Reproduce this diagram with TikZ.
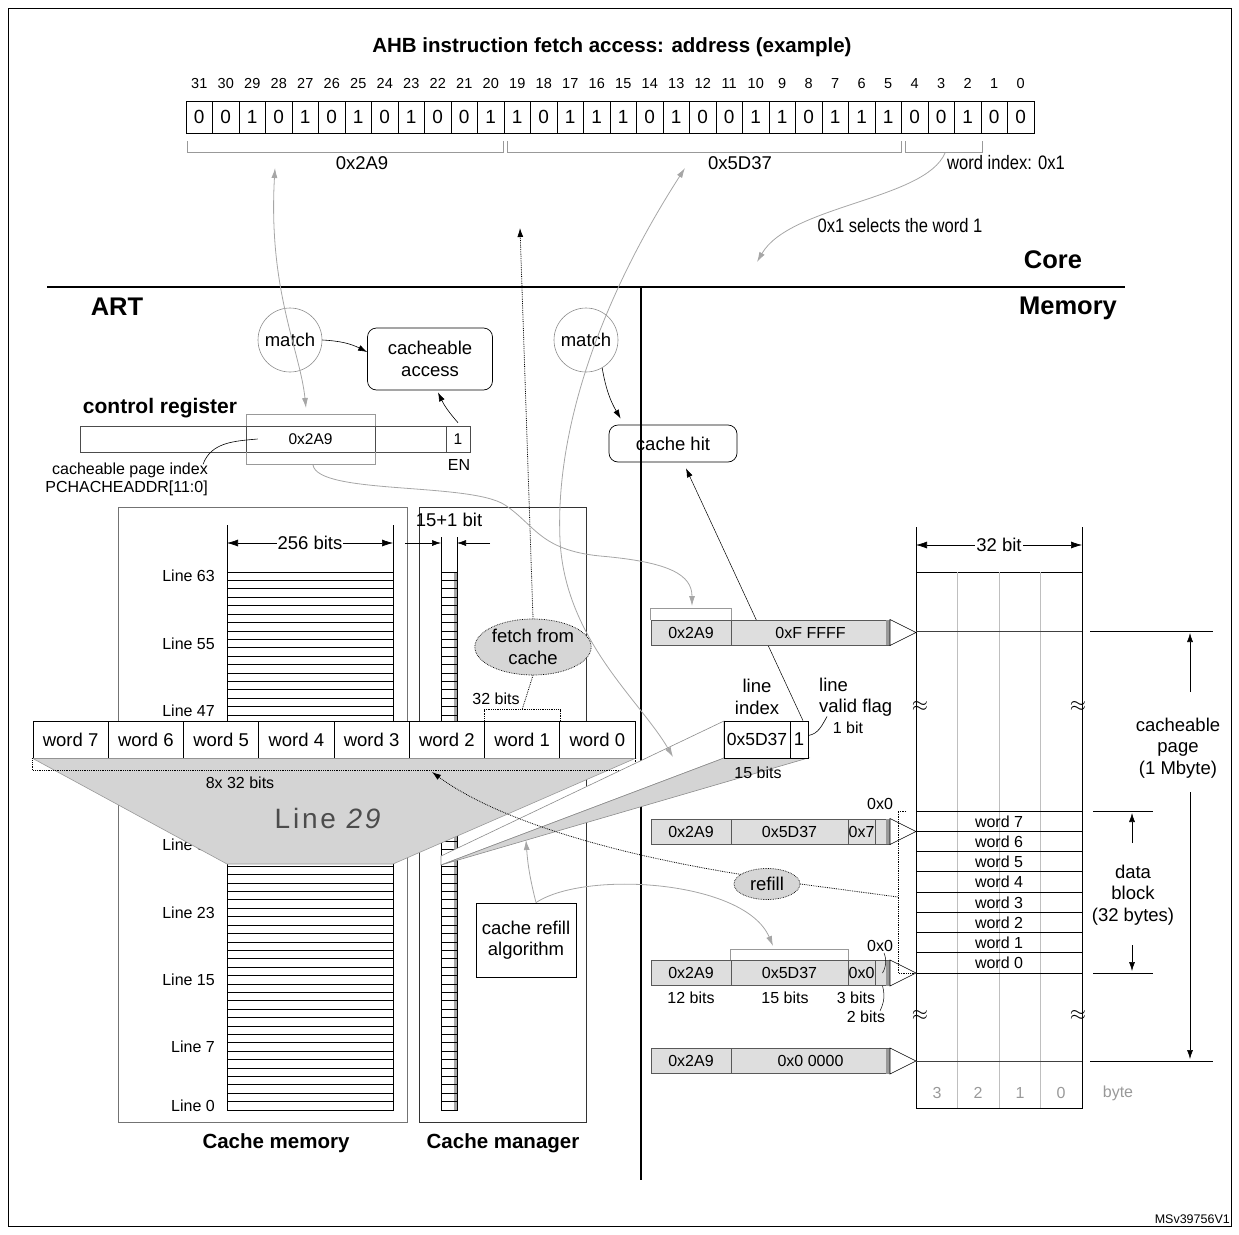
\documentclass[tikz,border=0pt]{standalone}
\usepackage{fontspec}
\setmainfont{Liberation Sans}
\newfontfamily\narrowfont[FakeStretch=0.85]{Liberation Sans}
\newfontfamily\widefont[LetterSpace=10]{Liberation Sans}
\usetikzlibrary{arrows.meta,positioning,shapes.geometric}

\begin{document}
\begin{tikzpicture}[x=1pt, y=-1pt,
	every node/.style={inner sep=0pt, font=\fontsize{18.5}{21.5}\selectfont},
	lbl/.style={font=\fontsize{16}{18}\selectfont},
	nrw/.style={font=\narrowfont\fontsize{19.5}{22}\selectfont},
	ttl/.style={font=\bfseries\fontsize{20.5}{23}\selectfont},
	zone/.style={font=\bfseries\fontsize{25.5}{28}\selectfont},
	bitcell/.style={draw, line width=0.7pt, minimum width=26.5pt, minimum height=32pt, font=\fontsize{19}{21}\selectfont},
	wordcell/.style={draw, line width=0.7pt, fill=white, minimum width=75.25pt, minimum height=37pt},
	addrcell/.style={draw=black!65, fill=black!13, line width=0.6pt, minimum height=25pt, font=\fontsize{16}{18}\selectfont},
	regcell/.style={draw=black!70, line width=0.6pt, minimum height=26pt, font=\fontsize{15.5}{17}\selectfont},
	match/.style={circle, draw=black!45, line width=0.6pt, minimum size=64pt},
	rbox/.style={draw, line width=0.7pt, rounded corners=9pt, align=center},
	oval/.style={ellipse, draw, densely dotted, line width=0.7pt, fill=black!16, align=center},
	brk/.style={draw=black!40, line width=1pt},
	garrow/.style={draw=black!35, line width=0.8pt, -{Latex[length=10pt,width=6pt]}},
	gboth/.style={garrow, {Latex[length=10pt,width=6pt]}-{Latex[length=10pt,width=6pt]}},
	blk/.style={-{Latex[length=9pt,width=6pt]}, line width=0.6pt},
	dimarr/.style={{Latex[length=11pt,width=7pt]}-{Latex[length=11pt,width=7pt]}, line width=0.6pt},
	dotline/.style={densely dotted, line width=0.8pt},
	dotarr/.style={dotline, -{Latex[length=9pt,width=6pt]}},
	grid/.style={line width=0.7pt},
]
\useasboundingbox (0,0) rectangle (1239,1234);
\draw[line width=0.8pt] (8,8) rectangle (1231,1226);

% address word
\node[ttl] (title) at (612,47) {AHB instruction fetch access: address (example)};
\foreach \b [count=\i from 0] in {0,0,1,0,1,0,1,0,1,0,0,1,1,0,1,1,1,0,1,0,0,1,1,0,1,1,1,0,0,1,0,0} {
	\pgfmathtruncatemacro{\n}{31-\i}
	\node[bitcell] (bit\n) at (199.25+26.5*\i,117) {\b};
	\node[font=\fontsize{14.5}{16}\selectfont, anchor=base] (num\n) at (199.25+26.5*\i,88) {\n};
}
\draw[brk] (187,141) |- (503,152) -- (503,141);
\draw[brk] (507,141) |- (901,152) -- (901,141);
\draw[brk] (905,141) |- (982,152) -- (982,141);
\node (fpage) at (362,163) {0x2A9};
\node (fline) at (740,163) {0x5D37};
\node[nrw, anchor=west] (fword) at (947,163) {word index: 0x1};
\node[nrw] (sel) at (900,226) {0x1 selects the word 1};

% zones
\draw[line width=2.4pt] (47,287) -- (1125,287);
\draw[line width=2.2pt] (641,287) -- (641,1180);
\node[zone] (core) at (1053,260) {Core};
\node[zone] (mem) at (1068,308) {Memory};
\node[zone] (art) at (117,307) {ART};

% match logic
\node[match] (match1) at (290,340) {match};
\node[match] (match2) at (586,340) {match};
\node[rbox, minimum width=125pt, minimum height=62pt] (access) at (430,359) {cacheable\\access};
\node[rbox, minimum width=128pt, minimum height=37pt] (hit) at (673,443.5) {cache hit};

% control register
\node[font=\bfseries\fontsize{21}{24}\selectfont] (cregtitle) at (160,408) {control register};
\node[regcell, minimum width=166pt] (reg0) at (163,439) {};
\node[regcell, minimum width=129pt] (reg1) at (310.5,439) {0x2A9};
\node[regcell, minimum width=71pt] (reg2) at (410.5,439) {};
\node[regcell, minimum width=24pt] (reg3) at (458,439) {1};
\node[lbl] (en) at (459,465) {EN};
\draw[brk] (246,426) |- (375,414) -- (375,426);
\draw[brk] (246,452) |- (375,464) -- (375,452);
\node[lbl, align=right, anchor=east] (pgidx) at (208,479) {cacheable page index\\PCHACHEADDR[11:0]};
\draw[line width=0.6pt] ([xshift=-5pt,yshift=-2pt]pgidx.north east) to[out=70,in=185] ([xshift=12pt]reg1.west);
\draw[blk] (match1.east) to[bend left=12] ([yshift=7pt]access.west);
\draw[blk] ([yshift=3pt]reg3.north) to[bend left=8] ([xshift=8pt,yshift=-2pt]access.south);
\draw[blk] (match2.-60) to[bend right=10] ([xshift=12pt,yshift=6pt]hit.north west);

% cache memory and cache manager
\node[draw=black!55, line width=0.8pt, minimum width=289pt, minimum height=615pt] (cmem) at (262.5,814.5) {};
\node[draw=black!80, line width=0.8pt, minimum width=167pt, minimum height=615pt] (cman) at (502.5,814.5) {};
\node[ttl] (cmemlbl) at (276,1143) {Cache memory};
\node[ttl] (cmanlbl) at (503,1143) {Cache manager};

\draw[grid] (227,572) rectangle (393,1110);
\foreach \k in {1,...,63} \draw[grid] (227,572+8.406*\k) -- (393,572+8.406*\k);
\fill[black!35] (454,572) rectangle (457,1110);
\draw[grid] (441,572) rectangle (457,1110);
\foreach \k in {1,...,63} \draw[grid] (441,572+8.406*\k) -- (457,572+8.406*\k);
\foreach \n in {63,55,47,31,23,15,7,0}
	\node[lbl, anchor=east] (line\n) at (215,{576.2+(63-\n)*8.406}) {Line \n};

\draw[grid] (227,525) -- (227,572);
\draw[grid] (393,525) -- (393,572);
\draw[dimarr] (227,543) -- node[fill=white, inner sep=1pt] (w256) {256 bits} (393,543);
\node (tagw) at (449,520) {15+1 bit};
\draw[grid] (441,537) -- (441,572);
\draw[grid] (457,537) -- (457,572);
\draw[blk] (405,543) -- (441,543);
\draw[blk] (490,543) -- (457,543);

% line 29 blown up
\foreach \w [count=\i from 0] in {7,...,0}
	\node[wordcell] (word\w) at (70.6+75.25*\i,739.5) {word \w};
\filldraw[fill=black!17, draw=black!40, line width=0.6pt] (word7.south west) -- (word0.south east) -- (393,864) -- (227,864) -- cycle;
\node[font=\widefont\fontsize{28}{30}\selectfont, text=black!70] (l29) at (329,818) {Line \textit{29}};
\draw[dotline] (word7.south west) -- ++(0,12) -| (word0.south east);
\node[lbl] (w8x) at (240,783) {8x 32 bits};
\draw[dotline] (word1.north west) -- ++(0,-11) -| (word1.north east);
\node[lbl] (w32) at (496,699) {32 bits};

\node[oval, minimum width=102pt, minimum height=56pt] (fetch) at (533,647) {fetch from\\cache};
\coordinate (fetchtip) at (520,228);
\draw[dotarr] (fetch.north) -- (fetchtip);
\draw[dotline] (fetch.south) -- ([yshift=11pt]word1.north);

% tag entry blown up
\filldraw[fill=white, draw=black!45, line width=0.6pt] (724,721) -- (441,856) -- (441,865) -- (724,758) -- cycle;
\filldraw[fill=black!17, draw=black!45, line width=0.6pt] (724,758) -- (441,865) -- (808,758) -- cycle;
\node[draw, line width=0.7pt, fill=white, minimum width=66pt, minimum height=37pt, font=\fontsize{17.5}{20}\selectfont] (tagidx) at (757,739.5) {0x5D37};
\node[draw, line width=0.7pt, fill=white, minimum width=18pt, minimum height=37pt] (tagv) at (799,739.5) {1};
\node[align=center] (lidx) at (757,697) {line\\index};
\node[align=left, anchor=west] (lvf) at (819,697) {line\\valid flag};
\node[lbl] (onebit) at (848,728) {1 bit};
\node[lbl] (b15) at (758,773) {15 bits};
\draw[line width=0.6pt] ([yshift=4pt]tagv.east) to[out=10,in=240] ([xshift=8pt]lvf.south west);
\draw[blk, line width=0.5pt] ([xshift=4pt]tagv.north) -- ([xshift=13pt,yshift=-6pt]hit.south);

% addressed memory
\node[draw, line width=0.8pt, minimum width=166pt, minimum height=536pt] (memcol) at (999,840) {};
\foreach \x in {957.5,999,1040.5} \draw[black!25, line width=0.6pt] (\x,572) -- (\x,1108);
\draw[line width=0.8pt, black!75] (916,631) -- (1082,631);
\draw[line width=0.8pt, black!75] (916,1061) -- (1082,1061);
\foreach \k in {0,...,8} \draw[line width=0.8pt] (916,811+20.25*\k) -- (1082,811+20.25*\k);
\foreach \w [count=\i from 0] in {7,...,0}
	\node[lbl] (mword\w) at (999,821.5+20.25*\i) {word \w};
\foreach \x/\n in {937/3,978/2,1020/1,1061/0}
	\node[lbl, text=black!40] (byte\n) at (\x,1093) {\n};
\node[lbl, text=black!40] (bytelbl) at (1118,1093) {byte};
\foreach \y in {706,1015} {
	\node[font=\fontsize{21}{22}\selectfont] (gapl\y) at (920,\y) {$\approx$};
	\node[font=\fontsize{21}{22}\selectfont] (gapr\y) at (1078,\y) {$\approx$};
}
\draw[grid] (916,527) -- (916,572);
\draw[grid] (1082,527) -- (1082,572);
\draw[dimarr] (916,545) -- node[fill=white, inner sep=1pt] (w32b) {32 bit} (1082,545);

\draw[line width=0.8pt] (1090,631) -- (1213,631);
\draw[line width=0.8pt] (1090,1061) -- (1213,1061);
\draw[line width=0.8pt] (1093,811) -- (1153,811);
\draw[line width=0.8pt] (1093,973) -- (1153,973);
\node[align=center] (pagelbl) at (1178,748) {cacheable\\page\\(1 Mbyte)};
\node[align=center] (blocklbl) at (1133,895) {data\\block\\(32 bytes)};
\draw[blk] (1190,692) -- (1190,633);
\draw[blk] (1190,792) -- (1190,1059);
\draw[blk] (1132,843) -- (1132,813);
\draw[blk] (1132,945) -- (1132,971);

% addresses
\node[addrcell, minimum width=80pt] (ra1) at (691,632.5) {0x2A9};
\node[addrcell, minimum width=159pt] (ra2) at (810.5,632.5) {0xF FFFF};
\node[addrcell, minimum width=80pt] (rb1) at (691,831.5) {0x2A9};
\node[addrcell, minimum width=117pt] (rb2) at (789.5,831.5) {0x5D37};
\node[addrcell, minimum width=27pt] (rb3) at (861.5,831.5) {0x7};
\node[addrcell, minimum width=15pt] (rb4) at (882.5,831.5) {};
\node[addrcell, minimum width=80pt] (rc1) at (691,973) {0x2A9};
\node[addrcell, minimum width=117pt] (rc2) at (789.5,973) {0x5D37};
\node[addrcell, minimum width=27pt] (rc3) at (861.5,973) {0x0};
\node[addrcell, minimum width=15pt] (rc4) at (882.5,973) {};
\node[addrcell, minimum width=80pt] (rd1) at (691,1061) {0x2A9};
\node[addrcell, minimum width=159pt] (rd2) at (810.5,1061) {0x0 0000};
\foreach \y in {632.5,831.5,973,1061} {
	\fill[black!40] (886,\y-12.5) rectangle (890,\y+12.5);
	\draw[fill=white, line width=0.6pt] (890,\y-13) -- (916,\y) -- (890,\y+13) -- cycle;
}
\draw[brk] (ra1.north west) -- ++(0,-11) -| (ra1.north east);
\draw[brk] (rc2.north west) -- ++(0,-11) -| (rc2.north east);
\node[lbl] (zero1) at (880,804) {0x0};
\node[lbl] (zero2) at (880,946) {0x0};
\draw[line width=0.5pt] ([xshift=4pt,yshift=-1pt]zero2.south) to[bend left=25] (rc4.center);
\node[lbl] (bits12) at (691,998) {12 bits};
\node[lbl] (bits15) at (785,998) {15 bits};
\node[lbl] (bits3) at (856,998) {3 bits};
\node[lbl] (bits2) at (866,1017) {2 bits};
\draw[line width=0.5pt] (rc4.south) to[bend left=20] ([xshift=14pt]bits2.north);

% refill
\node[oval, minimum width=66pt, minimum height=31pt] (refill) at (767,884) {refill};
\coordinate (refilltip) at (432,772);
\draw[dotarr] (refill.160) .. controls (620,855) and (500,822) .. (refilltip);
\draw[dotline] (refill.east) -- (898,897);
\draw[dotline] (906,811) -- (898,811) -- (898,973) -- (914,973);
\node[draw, line width=0.8pt, minimum width=100pt, minimum height=74pt, align=center] (algo) at (526,940) {cache refill\\algorithm};

% grey links
\coordinate (pagetop) at (275,168);
\coordinate (regtop) at (306,408);
\coordinate (regbot) at (313,465);
\coordinate (pagetip) at (692,606);
\coordinate (linetop) at (685,168);
\coordinate (linebot) at (673,757);
\coordinate (wordsel) at (945,153);
\coordinate (wordtip) at (757,262);
\coordinate (tagtip) at (526,840);
\coordinate (idxtip) at (773,946);
\draw[gboth] (pagetop) .. controls (268,290) and (300,350) .. (regtop);
\draw[gboth] (linetop) .. controls (600,300) and (555,430) .. (560,540) .. controls (565,640) and (640,700) .. (linebot);
\draw[garrow] (regbot) .. controls (318,495) and (470,482) .. (505,505) .. controls (535,525) and (540,550) .. (600,556) .. controls (670,562) and (692,575) .. (pagetip);
\draw[garrow] (wordsel) .. controls (925,200) and (790,205) .. (wordtip);
\draw[garrow] ([xshift=10pt]algo.north) to[bend left=5] (tagtip);
\draw[garrow] ([xshift=10pt]algo.north) .. controls (585,870) and (745,880) .. (idxtip);

\node[font=\fontsize{12.5}{14}\selectfont, anchor=east] (msv) at (1230,1219) {MSv39756V1};
\end{tikzpicture}
\end{document}
